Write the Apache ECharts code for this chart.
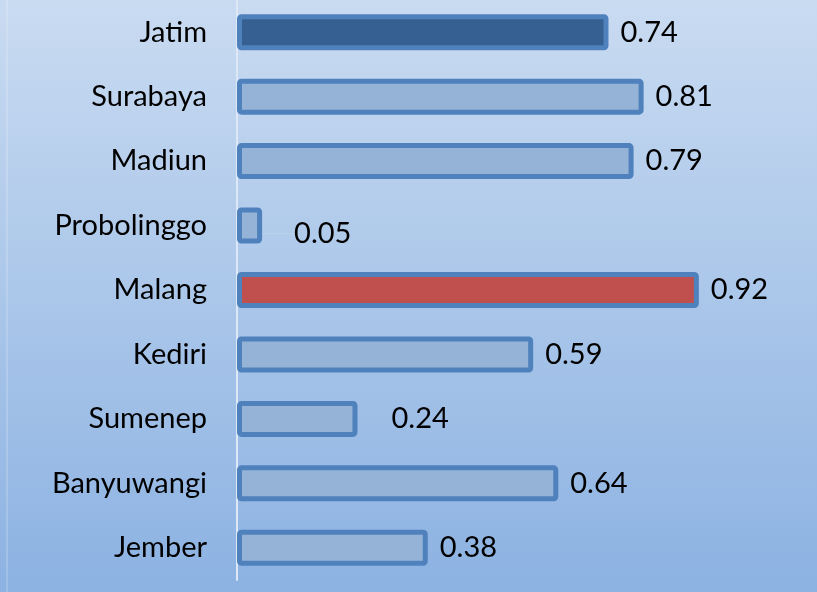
<!DOCTYPE html>
<html>
<head>
<meta charset="utf-8">
<script src="https://cdn.jsdelivr.net/npm/echarts@6/dist/echarts.min.js"></script>
<style>
  html, body { margin: 0; padding: 0; }
  #chart { width: 817px; height: 592px; }
</style>
</head>
<body>
<div id="chart"></div>
<script>
// categories top -> bottom
const regions = ["Jatim", "Surabaya", "Madiun", "Probolinggo", "Malang", "Kediri", "Sumenep", "Banyuwangi", "Jember"];
const scores = [0.74, 0.81, 0.79, 0.05, 0.92, 0.59, 0.24, 0.64, 0.38];
// special fills
const highlight = { Jatim: "#366092", Malang: "#c0504d" };

const chart = echarts.init(document.getElementById("chart"));

const option = {
  backgroundColor: {
    type: "linear", x: 0, y: 0, x2: 0, y2: 1,
    colorStops: [
      { offset: 0, color: "#c9dbf1" },
      { offset: 1, color: "#8cb2e2" }
    ]
  },
  textStyle: { fontFamily: "Lato" },
  grid: { left: 237, top: 0, bottom: 12, right: 78 },
  xAxis: {
    type: "value", min: 0, max: 1, show: false
  },
  yAxis: {
    type: "category",
    inverse: true,
    data: regions,
    axisTick: { show: false },
    axisLine: { show: true, lineStyle: { color: "#dce8f6", width: 2 } },
    axisLabel: { color: "#000", fontSize: 29, margin: 30, fontFamily: "Lato" }
  },
  graphic: [{
    type: "line", shape: { x1: 7, y1: 0, x2: 7, y2: 592 },
    style: { stroke: "rgba(255,255,255,0.35)", lineWidth: 1 }
  }],
  series: [{
    type: "bar",
    barWidth: 36,
    data: scores.map((v, i) => ({
      value: v,
      itemStyle: { color: highlight[regions[i]] || "#95b3d7" },
      // only Probolinggo gets a leader line
      labelLine: { show: i === 3 },
      label: i === 6 ? { distance: 34 } : undefined
    })),
    itemStyle: { borderColor: "#4f81bd", borderWidth: 5, borderRadius: 2 },
    label: {
      show: true, position: "right", distance: 12,
      color: "#000", fontSize: 29, fontFamily: "Lato",
      offset: [0, 4],
      formatter: p => p.value.toFixed(2)
    },
    labelLine: { show: false, lineStyle: { color: "#bcd2ee", width: 1 } },
    labelLayout: p => {
      if (p.dataIndex === 3) return { dx: 20, dy: 8 };
      return {};
    }
  }]
};
chart.setOption(option);
</script>
</body>
</html>
